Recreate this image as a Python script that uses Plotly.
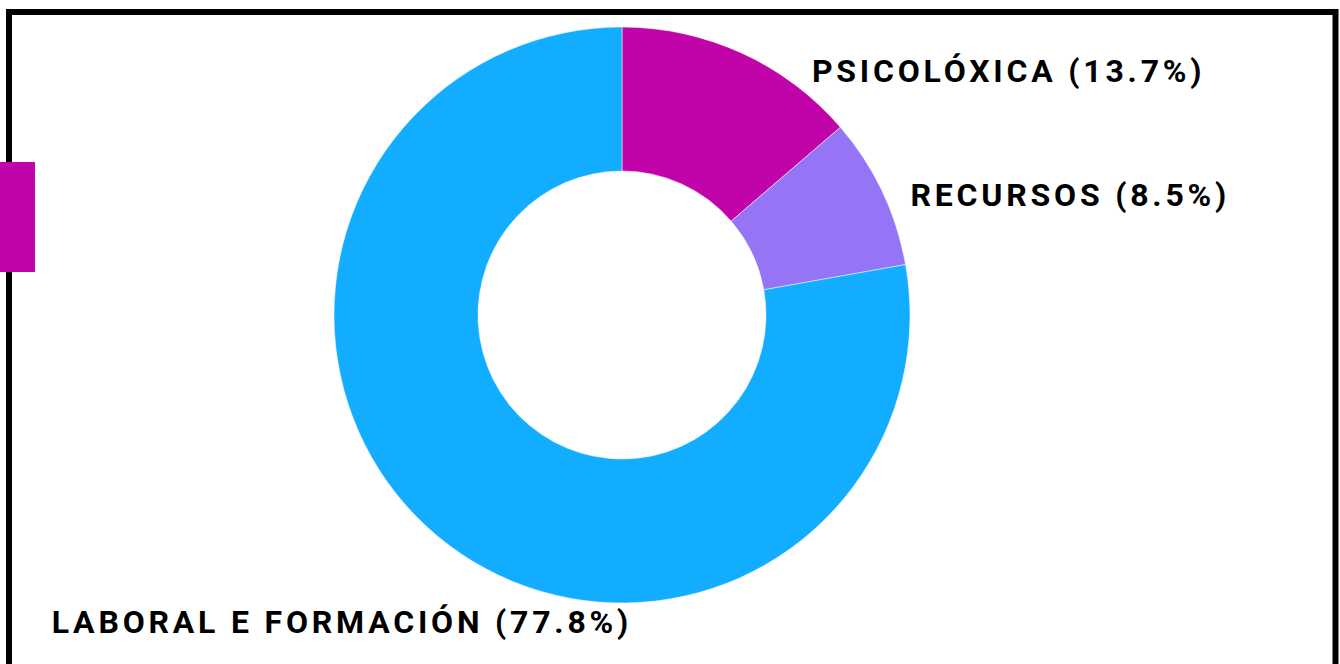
import plotly.graph_objects as go

labels = ["PSICOLÓXICA", "RECURSOS", "LABORAL E FORMACIÓN"]
values = [13.7, 8.5, 77.8]
colors = ["#C004A9", "#9575F6", "#13ADFF"]

W, H = 1340, 664

fig = go.Figure(go.Pie(
    labels=labels, values=values, sort=False, direction="clockwise", rotation=0,
    hole=0.5, marker=dict(colors=colors, line=dict(color="white", width=0.5)),
    textinfo="none", hoverinfo="label+percent", showlegend=False,
    domain=dict(x=[334 / W, 910 / W], y=[1 - 603 / H, 1 - 27 / H]),
))

# label positions (pixels: horizontal centre x, vertical centre y)
label_pos = [(1008, 71), (1070, 195), (342, 622)]
for lab, val, (px, py) in zip(labels, values, label_pos):
    fig.add_annotation(
        text=f"{lab} ({val}%)", xref="paper", yref="paper",
        x=px / W, y=1 - py / H, xanchor="center", yanchor="middle", showarrow=False,
        font=dict(family="Roboto", size=32, color="#000000", weight="bold"),
    )

# page frame
fig.add_shape(type="rect", xref="paper", yref="paper",
              x0=9 / W, x1=1335.5 / W, y0=-6 / H, y1=1 - 12 / H,
              line=dict(color="#000000", width=6), fillcolor="rgba(0,0,0,0)")
# magenta tab on the left
fig.add_shape(type="rect", xref="paper", yref="paper",
              x0=0, x1=35 / W, y0=1 - 272 / H, y1=1 - 162 / H,
              line=dict(width=0), fillcolor=colors[0])

fig.update_layout(width=W, height=H, margin=dict(l=0, r=0, t=0, b=0),
                  paper_bgcolor="white", plot_bgcolor="white")

post = ("document.body.style.margin='0';"
        "document.body.style.overflow='hidden';"
        "var s=document.createElement('style');"
        "s.innerHTML='.annotation-text{letter-spacing:3.8px}';"
        "document.head.appendChild(s);")
fig.write_html("out.html", post_script=post, config={"displayModeBar": False})
